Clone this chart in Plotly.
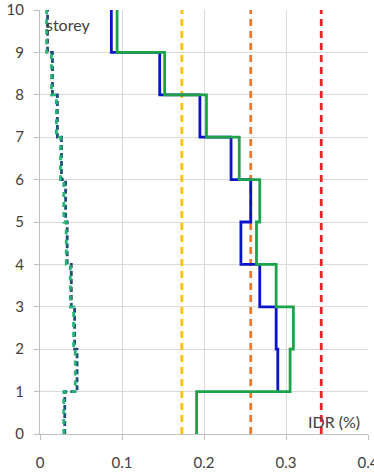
import plotly.graph_objects as go

# Storey drift values (IDR %), storey i spans y from i-1 to i
storeys = list(range(0, 11))
blue_solid = [None, None, 0.290, 0.288, 0.268, 0.245, 0.257, 0.233, 0.195, 0.146, 0.087]  # index = storey
green_solid = [None, 0.191, 0.305, 0.309, 0.288, 0.264, 0.268, 0.243, 0.203, 0.152, 0.094]
blue_dash = [None, 0.029, 0.044, 0.041, 0.037, 0.032, 0.030, 0.025, 0.020, 0.014, 0.008]
green_dash = [None, 0.029, 0.043, 0.041, 0.037, 0.032, 0.029, 0.025, 0.020, 0.014, 0.008]
limits = [0.173, 0.257, 0.343]
limit_colors = ["#FFC000", "#E97A2B", "#E8262A"]
x_ticks = [0, 0.1, 0.2, 0.3, 0.4]
x_ticklabels = ["0", "0.1", "0.2", "0.3", "0.4"]
y_ticks = list(range(0, 11))


def step_points(vals):
    xs, ys = [], []
    for s in range(1, 11):
        v = vals[s]
        if v is None:
            continue
        xs.append(v)
        ys.append(s - 1)
    xs.append(vals[10])
    ys.append(10)
    return xs, ys


fig = go.Figure()

for xval, col in zip(limits, limit_colors):
    fig.add_trace(go.Scatter(x=[xval, xval], y=[0, 10], mode="lines",
                             line=dict(color=col, width=2.8, dash="7px,5px"),
                             showlegend=False, hoverinfo="skip"))

bx, by = step_points(blue_dash)
fig.add_trace(go.Scatter(x=[v + 0.0012 for v in bx], y=by, mode="lines", line_shape="vh",
                         line=dict(color="#1F4E79", width=2.8, dash="5px,3px"),
                         showlegend=False))
gx, gy = step_points(green_dash)
fig.add_trace(go.Scatter(x=gx, y=gy, mode="lines", line_shape="vh",
                         line=dict(color="#22B573", width=2.8, dash="5px,5px"),
                         showlegend=False))

bx, by = step_points(blue_solid)
fig.add_trace(go.Scatter(x=bx, y=by, mode="lines", line_shape="vh",
                         line=dict(color="#0A14C8", width=2.8),
                         showlegend=False))
gx, gy = step_points(green_solid)
fig.add_trace(go.Scatter(x=gx, y=gy, mode="lines", line_shape="vh",
                         line=dict(color="#1CA34A", width=2.8),
                         showlegend=False))

axis_font = dict(family="Lato, Open Sans, sans-serif", size=15, color="#404040")

fig.update_layout(
    width=374, height=473,
    margin=dict(l=40, r=6, t=10, b=39, autoexpand=False),
    paper_bgcolor="white", plot_bgcolor="white",
    showlegend=False,
    xaxis=dict(range=[0, 0.4], tickvals=x_ticks, ticktext=x_ticklabels,
               showgrid=True, gridcolor="#D9D9D9", gridwidth=1,
               showline=True, linecolor="#BFBFBF", linewidth=1,
               ticks="outside", ticklen=5, tickcolor="#BFBFBF",
               tickfont=axis_font, zeroline=False, ticklabelstandoff=10,
               automargin=False, ticklabeloverflow="allow"),
    yaxis=dict(range=[0, 10], tickvals=y_ticks,
               showgrid=True, gridcolor="#D9D9D9", gridwidth=1,
               showline=True, linecolor="#BFBFBF", linewidth=1,
               ticks="outside", ticklen=5, tickcolor="#BFBFBF",
               tickfont=axis_font, zeroline=False, ticklabelstandoff=7,
               automargin=False, ticklabeloverflow="allow"),
    annotations=[
        dict(x=0.005, y=9.66, xref="x", yref="y", text="storey", showarrow=False,
             xanchor="left", yanchor="middle",
             font=dict(family="Lato, Open Sans, sans-serif", size=16, color="#404040")),
        dict(x=0.393, y=0.29, xref="x", yref="y", text="IDR (%)", showarrow=False,
             xanchor="right", yanchor="middle", bgcolor="rgba(255,255,255,0)",
             font=dict(family="Lato, Open Sans, sans-serif", size=16, color="#404040")),
    ],
)

fig.write_html("out.html",
               config={"displayModeBar": False},
               post_script="document.body.style.margin='0';document.body.style.overflow='hidden';")
